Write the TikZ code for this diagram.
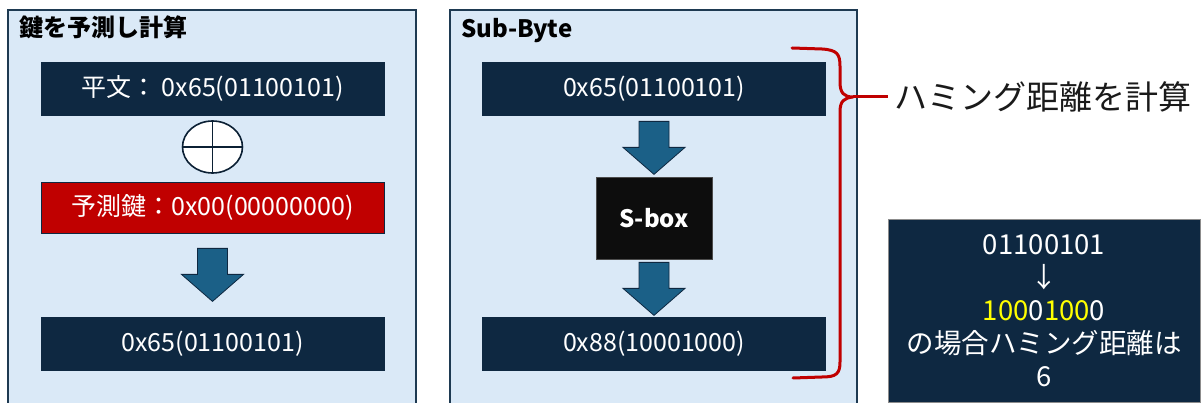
\documentclass[tikz,border=0pt]{standalone}
\usepackage{fontspec}
\setmainfont{Noto Sans CJK JP}
\usetikzlibrary{calc}

\definecolor{panelfill}{HTML}{DAE9F7}
\definecolor{panelline}{HTML}{1E3A52}
\definecolor{navy}{HTML}{0E2841}
\definecolor{arrowblue}{HTML}{1B6087}
\definecolor{keyred}{HTML}{C00000}
\definecolor{hlyellow}{HTML}{FFFF00}
\definecolor{labelgray}{HTML}{1A1A1A}

\tikzset{
  panel/.style={draw=panelline, line width=1.5pt, fill=panelfill},
  paneltitle/.style={anchor=base west, inner sep=0pt, font=\fontsize{24}{28}\selectfont\bfseries, text=black},
  valbox/.style={draw=navy, line width=0.8pt, fill=navy, text=white, minimum width=343pt,
    minimum height=53pt, inner sep=0pt, font=\fontsize{25}{29}\selectfont},
  keybox/.style={valbox, fill=keyred, minimum height=51pt},
  sboxstyle/.style={draw=black!70, line width=0.8pt, fill=black!95, text=white, minimum width=116pt,
    minimum height=82pt, inner sep=0pt, font=\fontsize{24}{28}\selectfont\bfseries},
  xorline/.style={draw=navy!80!black, line width=1.6pt},
  bracestyle/.style={draw=keyred, line width=3pt, line cap=round, line join=round},
  hambox/.style={draw=black!45, line width=0.8pt, fill=navy, text=white, minimum width=312pt,
    minimum height=183pt, inner sep=0pt, align=center, font=\fontsize{27.5}{33}\selectfont},
  downarrow/.pic={
    \draw[draw=navy, line width=0.8pt, fill=arrowblue]
      (-15,0) -- (15,0) -- (15,26) -- (31,26) -- (0,53) -- (-31,26) -- (-15,26) -- cycle;
  }
}

\begin{document}
\begin{tikzpicture}[x=1pt, y=-1pt]
  \clip (0,0) rectangle (1203,403);
  \fill[white] (0,0) rectangle (1203,403);

  % ---- left panel: key guess ----
  \draw[panel] (8,10) rectangle (416,410);
  \node[paneltitle] (t1) at (19,37) {鍵を予測し計算};
  \node[valbox] (plain) at (212.5,88.5) {平文： 0x65(01100101)};
  \coordinate (xor) at (212.5,147);
  \draw[xorline, fill=white] (xor) ellipse [x radius=30, y radius=26];
  \draw[xorline] ($(xor)+(0,-26)$) -- ($(xor)+(0,26)$);
  \draw[xorline] ($(xor)+(-30,0)$) -- ($(xor)+(30,0)$);
  \node[keybox] (key) at (212.5,207.5) {予測鍵：0x00(00000000)};
  \pic at ($(key.south)+(0,15)$) {downarrow};
  \node[valbox] (xout) at (212.5,343.5) {0x65(01100101)};

  % ---- right panel: Sub-Byte ----
  \draw[panel] (450,10) rectangle (857,410);
  \node[paneltitle] (t2) at (461,38) {Sub-Byte};
  \node[valbox] (sin) at (654,88.5) {0x65(01100101)};
  \pic at ($(sin.south)+(0,6)$) {downarrow};
  \node[sboxstyle] (sbox) at (654,218) {S-box};
  \pic at ($(sbox.south)+(0,3)$) {downarrow};
  \node[valbox] (sout) at (654,343.5) {0x88(10001000)};

  % ---- brace and its label ----
  \coordinate (tip) at (853,97);
  \draw[bracestyle] (792,48) -- (822,49) .. controls (837,50) and (840,54) .. (840,66)
    -- (840,82) .. controls (840,93) and (844,97) .. (tip)
    .. controls (844,98) and (840,101) .. (840,112)
    -- (840,362) .. controls (840,374) and (836,377) .. (822,377) -- (793,378);
  \node[anchor=west, inner sep=6pt, text=labelgray, font=\fontsize{33}{37}\selectfont] (hlabel) at (888,97) {ハミング距離を計算};
  \draw[bracestyle, line cap=butt] (tip) -- (hlabel.west);

  % ---- worked example ----
  \node[hambox] (ham) at (1044,310.5) {01100101\\↓\\\textcolor{hlyellow}{100}0\textcolor{hlyellow}{100}0\\の場合ハミング距離は\\6};
\end{tikzpicture}
\end{document}
